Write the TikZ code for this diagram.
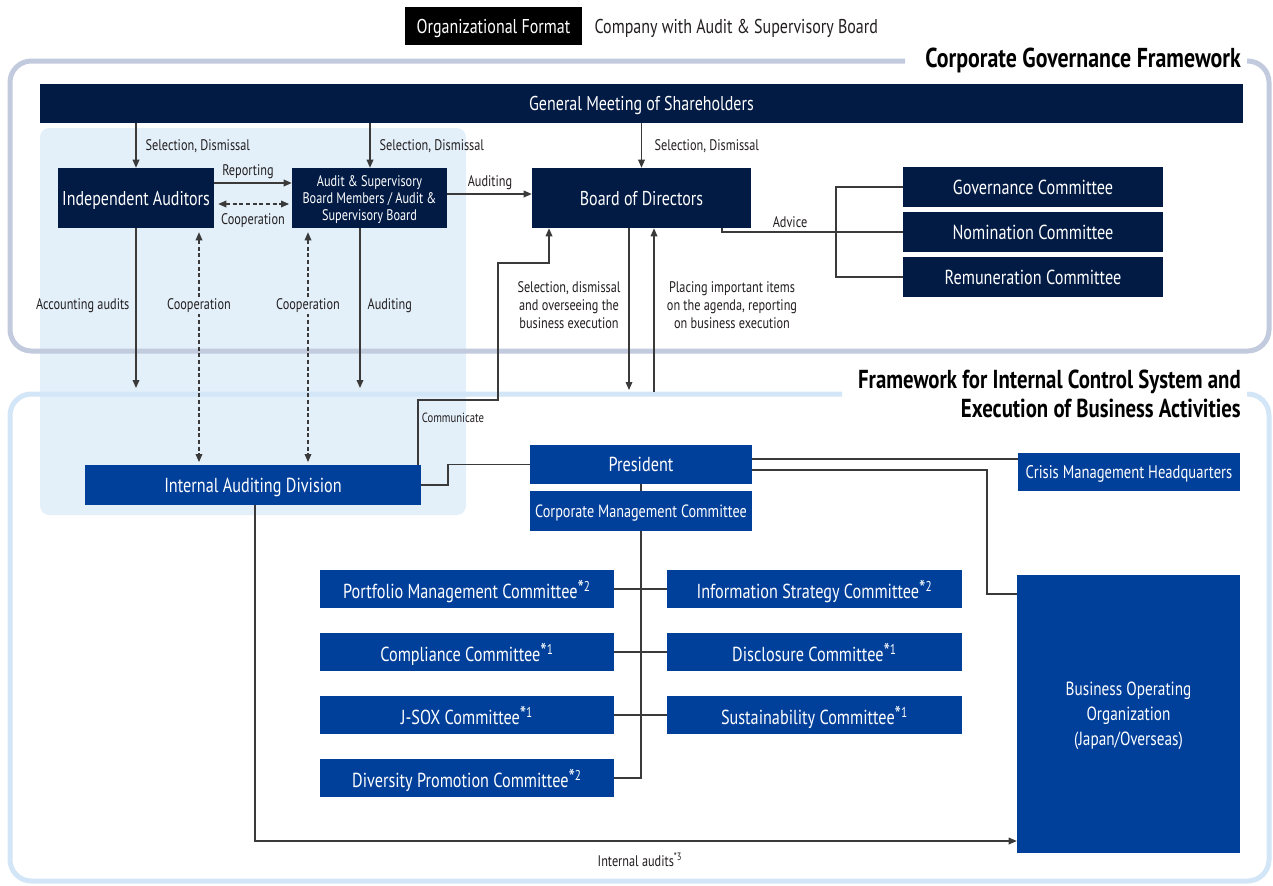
\documentclass[tikz,border=0pt]{standalone}
\usepackage{fontspec}
\setmainfont{PT Sans}[FakeStretch=0.8]
\usetikzlibrary{arrows.meta,calc}
\definecolor{navy}{HTML}{021B45}
\definecolor{midblue}{HTML}{00409A}
\definecolor{regionbg}{HTML}{E3F0FA}
\definecolor{frameA}{HTML}{C2CADD}
\definecolor{frameB}{HTML}{D2E6F7}
\definecolor{ink}{HTML}{231F20}
\definecolor{wire}{HTML}{3A3A3A}
\newcommand{\fnm}[1]{\raisebox{0.1em}{\fontsize{17}{17}\selectfont*}\textsuperscript{#1}}
\begin{document}
\begin{tikzpicture}[x=0.75pt,y=-0.75pt,
 sz/.style 2 args={minimum width=#1*0.75pt, minimum height=#2*0.75pt},
 box/.style={inner sep=0pt, text=white, align=center, text depth=0pt},
 navybox/.style={box, fill=navy},
 bluebox/.style={box, fill=midblue},
 bigf/.style={font=\fontsize{15}{17}\selectfont},
 comf/.style={font=\fontsize{15.2}{17}\selectfont},
 midf/.style={font=\fontsize{13.3}{15}\selectfont},
 lbl/.style={text=ink, inner sep=1pt, font=\fontsize{11.5}{13.5}\selectfont, align=center},
 conn/.style={draw=wire, line width=0.9pt},
 arr/.style={conn, -{Triangle[length=6pt,width=5pt]}},
 darr/.style={conn, dash pattern=on 3pt off 2pt, {Triangle[length=6pt,width=5pt]}-{Triangle[length=6pt,width=5pt]}},
 frametitle/.style={text=black, font=\bfseries\fontsize{20.5}{22}\selectfont, align=right, inner sep=0pt}]
\useasboundingbox (0,0) rectangle (1273,885);
\fill[white] (0,0) rectangle (1273,885);
% light blue audit region
\fill[regionbg, rounded corners=7pt] (40,128) rectangle (466,515);
% frames
\draw[frameA, line width=3.75pt, rounded corners=16pt] (905,61) -| (10,351) -| (1269,61) -- (1247,61);
\draw[frameB, line width=3.75pt, rounded corners=16pt] (842,394) -| (10,881) -| (1269,394) -- (1247,394);
\node[frametitle, anchor=east] (cgf) at (1241,60) {Corporate Governance Framework};
\node[frametitle, anchor=east, font=\bfseries\fontsize{19.5}{22}\selectfont] (ficf) at (1241,394) {Framework for Internal Control System and\\Execution of Business Activities};
% header
\node[box, fill=black, sz={177}{38}, font=\fontsize{15}{17}\selectfont] (org) at (493.5,26) {Organizational Format};
\node[lbl, anchor=west, font=\fontsize{15}{17}\selectfont] (company) at (593,28) {Company with Audit \& Supervisory Board};
% governance boxes
\node[navybox, sz={1203}{39}, bigf] (gm) at (641.5,103.5) {General Meeting of Shareholders};
\node[navybox, sz={156}{60}, bigf] (ia) at (136,198) {Independent Auditors};
\node[navybox, sz={155}{60}, font=\fontsize{11.5}{12.75}\selectfont] (asb) at (369.5,198) {Audit \& Supervisory\\Board Members / Audit \&\\Supervisory Board};
\node[navybox, sz={219}{60}, bigf] (bod) at (641.5,198) {Board of Directors};
\node[navybox, sz={260}{40}, comf] (gov) at (1033,187) {Governance Committee};
\node[navybox, sz={260}{40}, comf] (nom) at (1033,232) {Nomination Committee};
\node[navybox, sz={260}{40}, comf] (rem) at (1033,277) {Remuneration Committee};
% internal control boxes
\node[bluebox, sz={336}{40}, comf] (iad) at (253,485) {Internal Auditing Division};
\node[bluebox, sz={222}{39}, comf] (pres) at (641,464.5) {President};
\node[bluebox, sz={222}{40}, midf] (cmc) at (641,511) {Corporate Management Committee};
\node[bluebox, sz={222}{38}, font=\fontsize{13.7}{15}\selectfont] (crisis) at (1129,472) {Crisis Management Headquarters};
\node[bluebox, sz={223}{278}, font=\fontsize{14.3}{18.75}\selectfont] (bus) at (1128.5,714) {Business Operating\\Organization\\(Japan/Overseas)};
\node[bluebox, sz={294}{38}, comf] (port) at (467,589) {Portfolio Management Committee\fnm{2}};
\node[bluebox, sz={294}{38}, comf] (comp) at (467,652) {Compliance Committee\fnm{1}};
\node[bluebox, sz={294}{38}, comf] (jsox) at (467,715) {J-SOX Committee\fnm{1}};
\node[bluebox, sz={294}{38}, comf] (div) at (467,778) {Diversity Promotion Committee\fnm{2}};
\node[bluebox, sz={295}{38}, comf] (info) at (814.5,589) {Information Strategy Committee\fnm{2}};
\node[bluebox, sz={295}{38}, comf] (disc) at (814.5,652) {Disclosure Committee\fnm{1}};
\node[bluebox, sz={295}{38}, comf] (sust) at (814.5,715) {Sustainability Committee\fnm{1}};
% free ends
\coordinate (accEnd) at (136,388);
\coordinate (audEnd) at (360,388);
\coordinate (bodDown) at (629,390);
\coordinate (bodUp) at (654,392);
% selection arrows
\draw[arr] (gm.south -| ia) -- (ia.north);
\draw[arr] (gm.south -| 370,0) -- (asb.north -| 370,0);
\draw[arr] (gm.south -| bod) -- (bod.north);
\node[lbl, anchor=west] (l1) at (144,146) {Selection, Dismissal};
\node[lbl, anchor=west] (l2) at (378,146) {Selection, Dismissal};
\node[lbl, anchor=west] (l3) at (653,146) {Selection, Dismissal};
% reporting / cooperation
\draw[arr] (ia.east |- 0,183) -- (asb.west |- 0,183);
\node[lbl] (lrep) at (248,172) {Reporting};
\draw[darr, shorten <=3pt, shorten >=2pt] (ia.east |- 0,204) -- (asb.west |- 0,204);
\node[lbl] (lcoop) at (253,221) {Cooperation};
\draw[arr] (asb.east |- 0,194) -- (bod.west |- 0,194);
\node[lbl] (laud) at (490,183) {Auditing};
% downward lines
\draw[arr] (ia.south) -- (accEnd);
\node[lbl, anchor=east] (lacc) at (131,306) {Accounting audits};
\draw[arr] (asb.south -| audEnd) -- (audEnd);
\node[lbl, anchor=west] (laud2) at (366,306) {Auditing};
\draw[darr, shorten <=3pt, shorten >=2pt] (ia.south -| 199,0) -- (iad.north -| 199,0);
\draw[darr, shorten <=3pt, shorten >=2pt] (asb.south -| 308,0) -- (iad.north -| 308,0);
\node[lbl, fill=regionbg] (lc1) at (199,306) {Cooperation};
\node[lbl, fill=regionbg] (lc2) at (308,306) {Cooperation};
% communicate
\draw[arr] (iad.north -| 418,0) |- (498,400) |- (549,263) -- (bod.south -| 549,0);
\node[lbl, font=\fontsize{10}{11}\selectfont] (lcom) at (453,418) {Communicate};
% board <-> execution
\draw[arr] (bod.south -| bodDown) -- (bodDown);
\draw[arr] (bodUp) -- (bod.south -| bodUp);
\node[lbl] (lsel) at (569,305) {Selection, dismissal\\and overseeing the\\business execution};
\node[lbl] (lplace) at (732,305) {Placing important items\\on the agenda, reporting\\on business execution};
% advice
\draw[conn] (bod.south -| 722,0) |- (nom.west);
\draw[conn] (gov.west) -| (836,277) -- (rem.west);
\node[lbl] (ladv) at (790,222) {Advice};
% president links
\draw[conn] (pres.west) -| (448,485) -- (iad.east);
\draw[conn] (pres.east |- 0,459) -- (crisis.west |- 0,459);
\draw[conn] (pres.east |- 0,470) -| (987,594) -- (bus.west |- 0,594);
\draw[conn] (pres.south) -- (cmc.north);
\draw[conn] (cmc.south) |- (div.east);
\draw[conn] (port.east) -- (info.west);
\draw[conn] (comp.east) -- (disc.west);
\draw[conn] (jsox.east) -- (sust.west);
% internal audits
\draw[arr] (iad.south -| 255,0) |- (bus.west |- 0,841);
\node[lbl] (lia) at (640,860) {Internal audits\textsuperscript{*3}};
\end{tikzpicture}
\end{document}
